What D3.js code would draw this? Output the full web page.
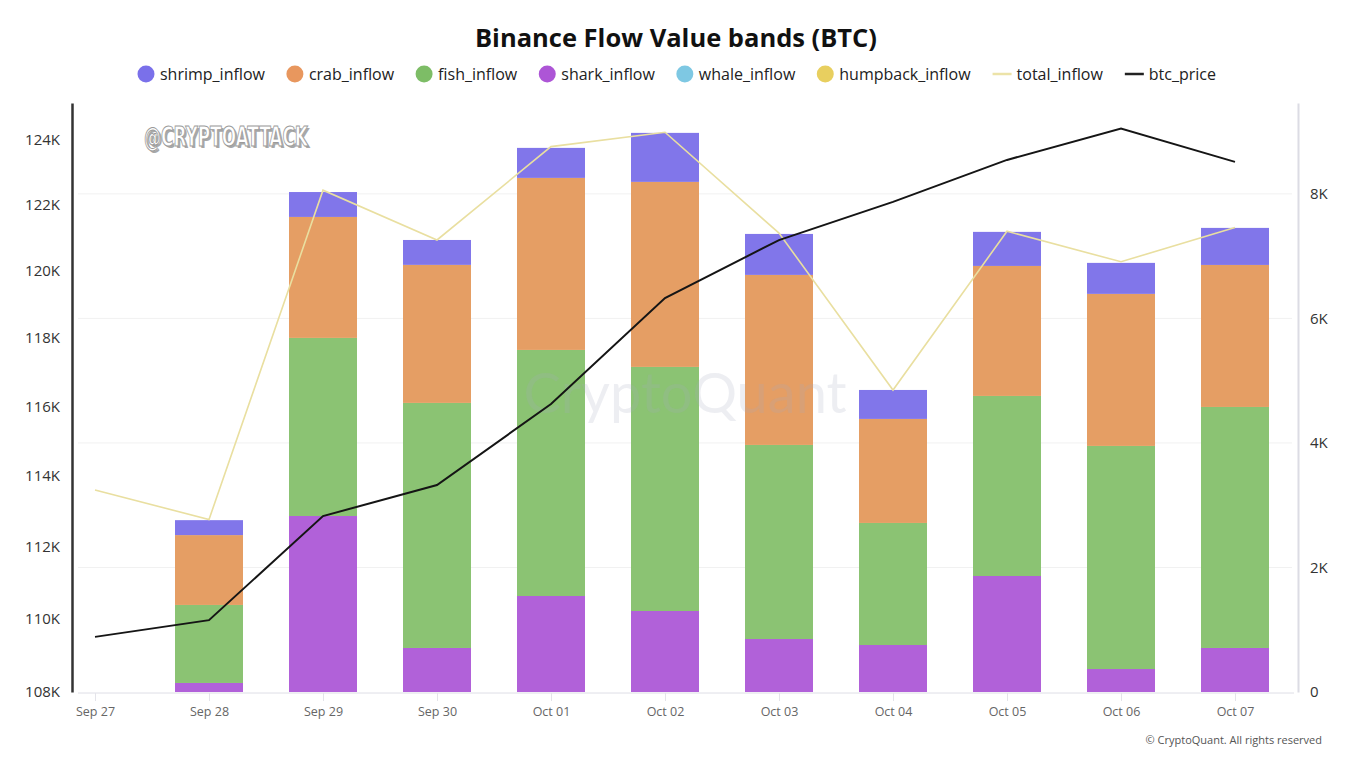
<!DOCTYPE html>
<html>
<head>
<meta charset="utf-8">
<script src="https://cdn.jsdelivr.net/npm/d3@7"></script>
<style>
  html, body { margin: 0; padding: 0; background: #fff; }
  svg { display: block; font-family: "Open Sans", "Noto Sans", sans-serif; }
</style>
</head>
<body>
<svg id="chart" width="1348" height="764"></svg>
<script>
// ---- data ----
const dates = ["Sep 27","Sep 28","Sep 29","Sep 30","Oct 01","Oct 02","Oct 03","Oct 04","Oct 05","Oct 06","Oct 07"];
const sharkInflow    = [0, 145, 2827, 707, 1542, 1301, 851, 755, 1863, 369, 707];
const fishInflow     = [0, 1253, 2860, 3936, 3952, 3920, 3117, 1960, 2892, 3583, 3871];
const crabInflow     = [0, 1122, 1943, 2217, 2763, 2972, 2731, 1671, 2088, 2442, 2281];
const shrimpInflow   = [0, 240, 400, 400, 482, 787, 658, 465, 547, 498, 595];
const whaleInflow    = [0, 0, 0, 0, 0, 0, 0, 0, 0, 0, 0];
const humpbackInflow = [0, 0, 0, 0, 0, 0, 0, 0, 0, 0, 0];
const totalInflow    = [3245, 2770, 8060, 7260, 8760, 8990, 7370, 4850, 7400, 6910, 7460];
const btcPrice       = [109500, 109960, 112860, 113740, 116070, 119190, 120930, 122090, 123380, 124350, 123320];
const leftTicks  = [108000, 110000, 112000, 114000, 116000, 118000, 120000, 122000, 124000];
const rightTicks = [0, 2000, 4000, 6000, 8000];

const stackKeys = ["shark_inflow","fish_inflow","crab_inflow","shrimp_inflow","whale_inflow","humpback_inflow"];
const seriesArrays = {
  shark_inflow: sharkInflow, fish_inflow: fishInflow, crab_inflow: crabInflow,
  shrimp_inflow: shrimpInflow, whale_inflow: whaleInflow, humpback_inflow: humpbackInflow
};
const colors = {
  shrimp_inflow: "#7a6fe9", crab_inflow: "#e4995c", fish_inflow: "#85c06c",
  shark_inflow: "#ad59d7", whale_inflow: "#7ec8e3", humpback_inflow: "#e8cf5f"
};
const legendItems = [
  {name:"shrimp_inflow", type:"dot", color:"#7a70ea"},
  {name:"crab_inflow", type:"dot", color:"#e8975e"},
  {name:"fish_inflow", type:"dot", color:"#7dbd66"},
  {name:"shark_inflow", type:"dot", color:"#ad55d6"},
  {name:"whale_inflow", type:"dot", color:"#7ec8e3"},
  {name:"humpback_inflow", type:"dot", color:"#e8cf5f"},
  {name:"total_inflow", type:"line", color:"#ece3a8"},
  {name:"btc_price", type:"line", color:"#222"}
];

// ---- layout ----
const svg = d3.select("#chart");
const plot = {left: 72, right: 1298, top: 103, bottom: 692};

const x = d3.scalePoint().domain(dates).range([95, 1235]);
const yL = d3.scaleLog().domain([108000, 125150]).range([plot.bottom, plot.top]);
const yR = d3.scaleLinear().domain([0, 9460]).range([plot.bottom, plot.top]);
const barW = 68;

// gridlines (right axis)
svg.append("g").selectAll("line").data(rightTicks.filter(d => d > 0)).join("line")
  .attr("x1", plot.left + 6).attr("x2", plot.right - 6)
  .attr("y1", d => yR(d)).attr("y2", d => yR(d))
  .attr("stroke", "#f1f1f1").attr("stroke-width", 1);

// stacked bars
const table = dates.map((d, i) => {
  const o = {date: d};
  stackKeys.forEach(k => o[k] = seriesArrays[k][i]);
  return o;
});
const stacked = d3.stack().keys(stackKeys)(table);
const gBars = svg.append("g");
stacked.forEach(layer => {
  gBars.selectAll(null).data(layer.filter(s => s[1] - s[0] > 0)).join("rect")
    .attr("x", s => x(s.data.date) - barW / 2)
    .attr("width", barW)
    .attr("y", s => yR(s[1]))
    .attr("height", s => yR(s[0]) - yR(s[1]))
    .attr("fill", colors[layer.key])
    .attr("fill-opacity", 0.95);
});

// watermark (drawn over bars, faint)
svg.append("text").attr("x", 685).attr("y", 413).attr("text-anchor", "middle")
  .attr("font-family", "Lato, 'Open Sans', sans-serif")
  .attr("font-size", 56).attr("fill", "#a4a8bf").attr("fill-opacity", 0.2)
  .text("CryptoQuant");

// total inflow line
svg.append("path").datum(totalInflow)
  .attr("d", d3.line().x((d, i) => x(dates[i])).y(d => yR(d)))
  .attr("fill", "none").attr("stroke", "#e9dfa0").attr("stroke-width", 1.6);

// btc price line
svg.append("path").datum(btcPrice)
  .attr("d", d3.line().x((d, i) => x(dates[i])).y(d => yL(d)))
  .attr("fill", "none").attr("stroke", "#151515").attr("stroke-width", 2);

// left axis
const gL = svg.append("g").attr("transform", `translate(${plot.left},0)`)
  .call(d3.axisLeft(yL).tickValues(leftTicks).tickSize(0).tickPadding(12)
    .tickFormat(d => (d / 1000) + "K"));
gL.select(".domain").attr("stroke", "#333").attr("stroke-width", 2.5);
gL.selectAll("text").attr("font-size", 15).attr("fill", "#333")
  .attr("font-family", "'Open Sans', sans-serif");

// right axis
const gR = svg.append("g").attr("transform", `translate(${plot.right},0)`)
  .call(d3.axisRight(yR).tickValues(rightTicks).tickSize(0).tickPadding(12)
    .tickFormat(d => d === 0 ? "0" : (d / 1000) + "K"));
gR.select(".domain").attr("stroke", "#dcdce4").attr("stroke-width", 2);
gR.selectAll("text").attr("font-size", 15).attr("fill", "#333")
  .attr("font-family", "'Open Sans', sans-serif");

// bottom axis
svg.append("line").attr("x1", 78).attr("x2", plot.right - 4)
  .attr("y1", plot.bottom + 1).attr("y2", plot.bottom + 1)
  .attr("stroke", "#dedee6").attr("stroke-width", 1);
const gB = svg.append("g").attr("transform", `translate(0,${plot.bottom + 1})`)
  .call(d3.axisBottom(x).tickSize(8).tickPadding(6));
gB.select(".domain").remove();
gB.selectAll(".tick line").attr("stroke", "#e4e4ea");
gB.selectAll("text").attr("font-size", 12.5).attr("fill", "#666")
  .attr("font-family", "'Open Sans', sans-serif");

// title
svg.append("text").attr("x", 676).attr("y", 47).attr("text-anchor", "middle")
  .attr("font-family", "'Open Sans', sans-serif").attr("font-weight", 700)
  .attr("font-size", 25.5).attr("fill", "#111")
  .text("Binance Flow Value bands (BTC)");

// legend
const gLeg = svg.append("g");
let cx = 0;
legendItems.forEach(it => {
  const g = gLeg.append("g");
  if (it.type === "dot") {
    g.append("circle").attr("cx", 8).attr("cy", 0).attr("r", 8.5).attr("fill", it.color);
  } else {
    g.append("line").attr("x1", 0).attr("x2", 19).attr("y1", 0).attr("y2", 0)
      .attr("stroke", it.color).attr("stroke-width", 2.5);
  }
  const t = g.append("text").attr("x", it.type === "dot" ? 22 : 24).attr("y", 5.8)
    .attr("font-size", 16).attr("fill", "#222")
    .attr("font-family", "'Open Sans', sans-serif").text(it.name);
  const w = (it.type === "dot" ? 22 : 24) + t.node().getComputedTextLength();
  g.attr("transform", `translate(${cx},0)`);
  cx += w + 22;
});
const totalW = cx - 22;
gLeg.attr("transform", `translate(${(139 + 1215) / 2 - totalW / 2},74)`);

// @CRYPTOATTACK stamp
const stamp = svg.append("g");
stamp.append("text").attr("x", 144 + 2).attr("y", 146 + 2)
  .attr("font-family", "'DejaVu Sans Condensed', 'DejaVu Sans', sans-serif")
  .attr("font-weight", 700).attr("font-size", 27)
  .attr("textLength", 164).attr("lengthAdjust", "spacingAndGlyphs")
  .attr("fill", "#a8a8a8").text("@CRYPTOATTACK");
stamp.append("text").attr("x", 144).attr("y", 146)
  .attr("font-family", "'DejaVu Sans Condensed', 'DejaVu Sans', sans-serif")
  .attr("font-weight", 700).attr("font-size", 27)
  .attr("textLength", 164).attr("lengthAdjust", "spacingAndGlyphs")
  .attr("fill", "#ffffff").attr("stroke", "#9a9a9a").attr("stroke-width", 1)
  .text("@CRYPTOATTACK");

// copyright
svg.append("text").attr("x", 1322).attr("y", 744).attr("text-anchor", "end")
  .attr("font-size", 11).attr("fill", "#555")
  .attr("font-family", "'Open Sans', sans-serif")
  .text("© CryptoQuant. All rights reserved");
</script>
</body>
</html>
